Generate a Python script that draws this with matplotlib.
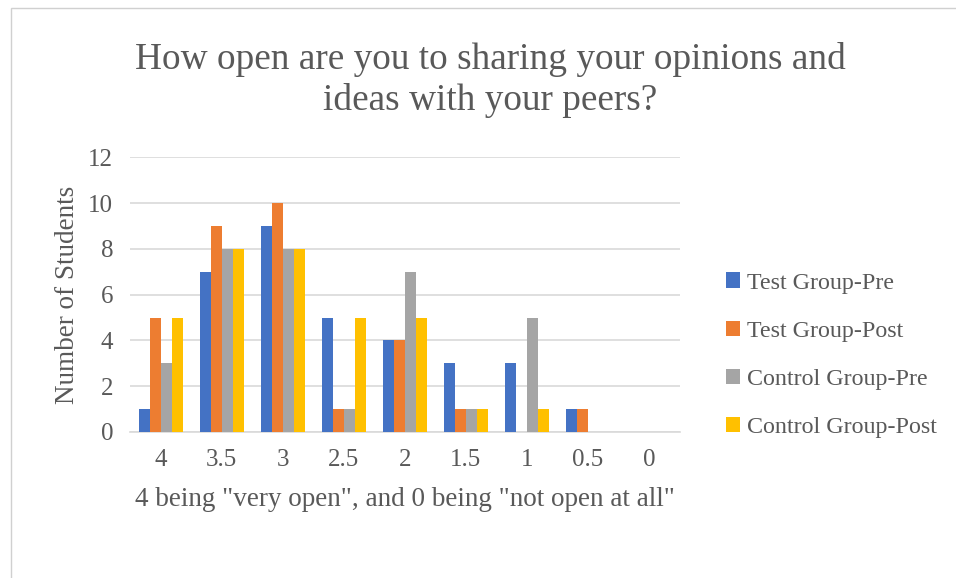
import numpy as np
import matplotlib.pyplot as plt
from matplotlib.patches import Rectangle

plt.rcParams['font.family'] = ['Liberation Serif', 'DejaVu Serif']

categories = ['4', '3.5', '3', '2.5', '2', '1.5', '1', '0.5', '0']
test_pre = [1, 7, 9, 5, 4, 3, 3, 1, 0]
test_post = [5, 9, 10, 1, 4, 1, 0, 1, 0]
control_pre = [3, 8, 8, 1, 7, 1, 5, 0, 0]
control_post = [5, 8, 8, 5, 5, 1, 1, 0, 0]

series = [
    ('Test Group-Pre', test_pre, '#4472C4'),
    ('Test Group-Post', test_post, '#ED7D31'),
    ('Control Group-Pre', control_pre, '#A5A5A5'),
    ('Control Group-Post', control_post, '#FFC000'),
]

txt = '#595959'
fig = plt.figure(figsize=(9.56, 5.78), dpi=100)
fig.patches.append(Rectangle((0.011, -0.1), 1.2, 1.086, transform=fig.transFigure,
                             fill=False, edgecolor='#d0d0d0', lw=1))
ax = fig.add_axes([0.136, 0.2526, 0.575, 0.4754])

x = np.arange(len(categories))
w = 0.18
for i, (name, vals, col) in enumerate(series):
    ax.bar(x + (i - 1.5) * w, vals, w, color=col, label=name, zorder=3)

ax.set_ylim(0, 12)
ax.set_yticks(range(0, 13, 2))
ax.set_xlim(-0.5, len(categories) - 0.5)
ax.set_xticks(x)
ax.set_xticklabels(categories)
ax.yaxis.grid(True, color='#d9d9d9', lw=1.2, zorder=0)
for s in ['top', 'right', 'left']:
    ax.spines[s].set_visible(False)
ax.spines['bottom'].set_color('#d9d9d9')
ax.spines['bottom'].set_linewidth(1.2)
ax.tick_params(length=0, labelsize=18, colors=txt, pad=12)
ax.tick_params(axis='y', pad=12)

ax.set_ylabel('Number of Students', fontsize=19.5, color=txt, labelpad=6)
ax.set_xlabel('4 being "very open", and 0 being "not open at all"', fontsize=19.5,
              color=txt, labelpad=12)
fig.text(0.5126, 0.862, 'How open are you to sharing your opinions and\nideas with your peers?',
         ha='center', va='center', fontsize=26.8, color=txt, linespacing=1.22)

ax.legend(loc='center left', bbox_to_anchor=(1.044, 0.28), frameon=False,
          fontsize=17.3, labelcolor=txt, handlelength=0.6, handleheight=0.6,
          handletextpad=0.3, labelspacing=1.12)

fig.savefig('out.png', dpi=100)
